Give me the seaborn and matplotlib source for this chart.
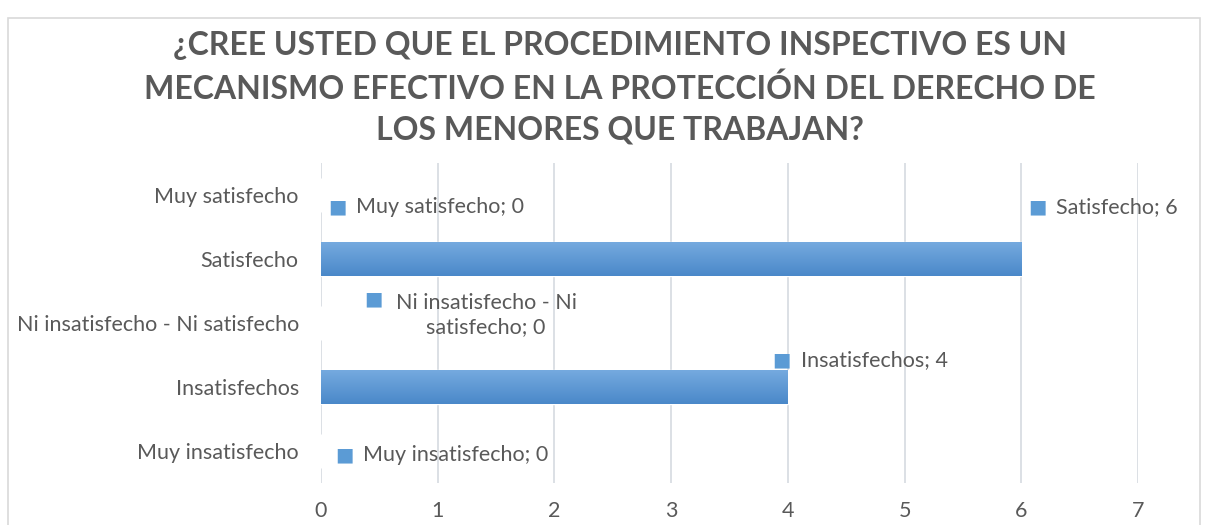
import matplotlib
matplotlib.use("Agg")
import matplotlib.pyplot as plt
import numpy as np
import seaborn as sns
from matplotlib.patches import Rectangle

# datos
categorias = ["Muy satisfecho", "Satisfecho", "Ni insatisfecho - Ni satisfecho",
              "Insatisfechos", "Muy insatisfecho"]
valores = [0, 6, 0, 4, 0]
etiquetas = ["Muy satisfecho; 0", "Satisfecho; 6", "Ni insatisfecho - Ni\nsatisfecho; 0",
             "Insatisfechos; 4", "Muy insatisfecho; 0"]
titulo = ("¿CREE USTED QUE EL PROCEDIMIENTO INSPECTIVO ES UN\n"
          "MECANISMO EFECTIVO EN LA PROTECCIÓN DEL DERECHO DE\n"
          "LOS MENORES QUE TRABAJAN?")

# desplazamiento de las etiquetas (pixeles) respecto al extremo de la barra
offset_marca = [(16, -12), (16, 52), (52, 24), (-6, 27), (23, -4)]

sns.set_theme(style="white")
plt.rcParams["font.family"] = ["Lato", "DejaVu Sans"]

AZUL = "#5B9BD5"
GRIS_TXT = "#595959"

fig = plt.figure(figsize=(12.1, 5.25), dpi=100)
ax = fig.add_axes([321 / 1210, 1 - 483 / 525, (1138 - 321) / 1210, 320 / 525])

sns.barplot(x=valores, y=categorias, color=AZUL, width=0.52, orient="h", ax=ax,
            saturation=1)

# degradado en las barras
grad = np.linspace(0, 1, 100).reshape(-1, 1)
cmap = matplotlib.colors.LinearSegmentedColormap.from_list("g", ["#75aadf", "#4a88c9"])
for p in list(ax.patches):
    x0, y0 = p.get_x(), p.get_y()
    w, h = p.get_width(), p.get_height()
    if w <= 0:
        continue
    im = ax.imshow(grad, cmap=cmap, aspect="auto", extent=[x0, x0 + w, y0 + h, y0],
                   zorder=p.get_zorder() + 0.1)
    im.set_clip_path(p)

ax.set_xlim(0, 7)
ax.set_ylim(4.5, -0.5)
ax.set_xticks(range(0, 8))
ax.grid(axis="x", color="#d9dde3", lw=1.3)
ax.set_axisbelow(True)
for s in ax.spines.values():
    s.set_visible(False)
ax.tick_params(axis="both", length=0, labelsize=15.5, labelcolor=GRIS_TXT)
ax.tick_params(axis="y", pad=16)
ax.tick_params(axis="x", pad=13)
ax.set_xlabel("")
ax.set_ylabel("")

# etiquetas de datos con marca cuadrada
for i, (v, txt, off) in enumerate(zip(valores, etiquetas, offset_marca)):
    ax.annotate("\u25A0", xy=(v, i), xytext=off, textcoords="offset pixels",
                ha="center", va="center", fontsize=14, color=AZUL,
                family=["DejaVu Sans"], annotation_clip=False)
    if "\n" in txt:
        ax.annotate(txt, xy=(v, i), xytext=(off[0] + 113, off[1] - 16),
                    textcoords="offset pixels", ha="center", va="center",
                    fontsize=15.5, color=GRIS_TXT, annotation_clip=False,
                    linespacing=1.25)
    else:
        ax.annotate(txt, xy=(v, i), xytext=(off[0] + 19, off[1]),
                    textcoords="offset pixels", ha="left", va="center",
                    fontsize=15.5, color=GRIS_TXT, annotation_clip=False)

fig.text(620 / 1210, 1 - 88 / 525, titulo, ha="center", va="center",
         fontsize=23, fontweight="bold", color=GRIS_TXT, linespacing=1.5)

# marco del grafico
fig.patches.append(Rectangle((8 / 1210, -0.1), 1192 / 1210, 1.1 - 18 / 525,
                             transform=fig.transFigure, fill=False,
                             edgecolor="#d9d9d9", lw=1.2))

fig.savefig("out.png", dpi=100)
